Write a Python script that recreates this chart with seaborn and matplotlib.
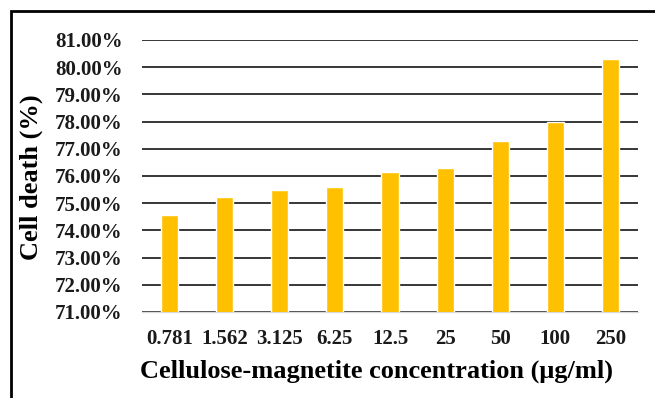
import matplotlib
matplotlib.use("Agg")
import matplotlib.pyplot as plt
import seaborn as sns
import pandas as pd
from matplotlib.patches import Rectangle
from matplotlib.ticker import FuncFormatter

concentrations = ["0.781", "1.562", "3.125", "6.25", "12.5", "25", "50", "100", "250"]
cell_death = [74.57, 75.23, 75.49, 75.60, 76.16, 76.29, 77.29, 78.00, 80.31]

df = pd.DataFrame({"conc": concentrations, "death": cell_death})

sns.set_theme(style="white")
plt.rcParams['font.family'] = ['Liberation Serif', 'DejaVu Serif']
plt.rcParams['font.weight'] = 'bold'

fig = plt.figure(figsize=(6.55, 3.98), dpi=100)
ax = fig.add_axes([142/655, 1-312/398, (638-142)/655, (312-40)/398])

sns.barplot(data=df, x="conc", y="death", color="#FFC000", width=0.31,
            saturation=1, ax=ax, zorder=3)

ax.set_ylim(71, 81)
ax.set_yticks(range(71, 82))
ax.yaxis.set_major_formatter(FuncFormatter(lambda v, p: f"{v:.2f}%"))
ax.grid(axis="y", color="black", linewidth=1.1, zorder=0)
ax.set_axisbelow(True)
for s in ["top", "right", "left"]:
    ax.spines[s].set_visible(False)
ax.spines["bottom"].set_color("#d9d9d9")
ax.spines["bottom"].set_linewidth(1)
ax.tick_params(axis="both", length=0, labelsize=15, colors="#1a1a1a")
ax.tick_params(axis="y", pad=14)
ax.tick_params(axis="x", pad=12)
for lab in ax.get_xticklabels() + ax.get_yticklabels():
    lab.set_fontweight("bold")
ax.set_xlabel("Cellulose-magnetite concentration (μg/ml)", fontsize=19,
              fontweight="bold", color="black")
ax.xaxis.set_label_coords(0.472, -0.175)
ax.set_ylabel("Cell death (%)", fontsize=19, fontweight="bold", color="black")
ax.yaxis.set_label_coords(-0.2, 0.495)

fig.patches.append(Rectangle((11/655, -0.1), 1.2, 1 - 11/398 + 0.1,
                             transform=fig.transFigure, fill=False,
                             edgecolor="black", linewidth=2, clip_on=False))

fig.savefig("out.png", dpi=100)
